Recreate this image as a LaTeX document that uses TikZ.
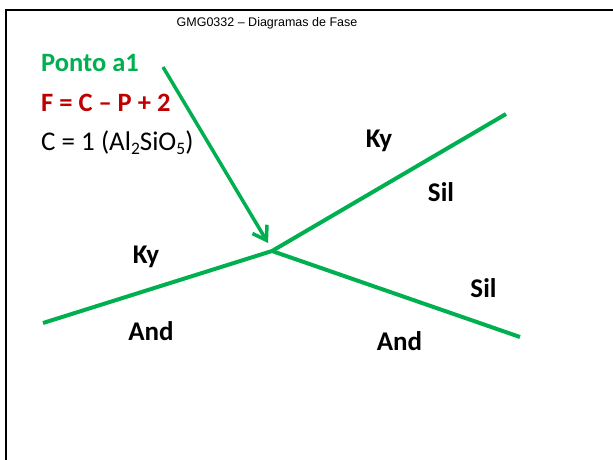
\documentclass[tikz,border=0pt]{standalone}
\usepackage{fontspec}
\setmainfont{Carlito}
\newfontfamily\titlefont{Liberation Sans}
\usetikzlibrary{arrows.meta}
\definecolor{phgreen}{HTML}{00B050}
\definecolor{phred}{HTML}{C00000}
\newcommand{\lowsub}[1]{\raisebox{-4.5pt}{\fontsize{17.5}{20}\selectfont #1}}
\tikzset{
  phline/.style={draw=phgreen, line width=4pt},
  pharrow/.style={draw=phgreen, line width=3.5pt, -{Straight Barb[length=13pt,width=17pt]}},
  field/.style={font=\fontsize{27}{32}\selectfont\bfseries, anchor=base, inner sep=0pt},
  lefttext/.style={font=\fontsize{27}{32}\selectfont, anchor=base west, inner sep=0pt},
  frameline/.style={draw=black, line width=2.2pt}
}
\begin{document}
\begin{tikzpicture}[x=1pt,y=-1pt]
\useasboundingbox (0,0) rectangle (613,459);
\draw[frameline] (6,462) -- (6,10) -- (616,10);
\node[font=\titlefont\fontsize{12.5}{15}\selectfont, anchor=base, inner sep=0pt] (title) at (267,26) {GMG0332 – Diagramas de Fase};
\node[lefttext, text=phgreen, font=\fontsize{26.5}{32}\selectfont\bfseries] (ponto) at (41,71) {Ponto a1};
\node[lefttext, text=phred, font=\fontsize{26.5}{32}\selectfont\bfseries] (rule) at (41,111) {F = C – P + 2};
\node[lefttext] (comp) at (41,150) {C = 1 (Al\lowsub{2}SiO\lowsub{5})};
\coordinate (J) at (272,251);
\coordinate (L) at (43,323);
\coordinate (TR) at (506,114);
\coordinate (BR) at (520,337);
\coordinate (As) at (163,67);
\coordinate (At) at (268,243);
\draw[phline] (L) -- (J) -- (TR);
\draw[phline] (J) -- (BR);
\draw[pharrow] (As) -- (At);
\node[field] (ky1) at (146,263) {Ky};
\node[field] (and1) at (151,340) {And};
\node[field] (ky2) at (379,147) {Ky};
\node[field] (sil1) at (441,201) {Sil};
\node[field] (sil2) at (483.5,297) {Sil};
\node[field] (and2) at (399.5,350) {And};
\end{tikzpicture}
\end{document}
